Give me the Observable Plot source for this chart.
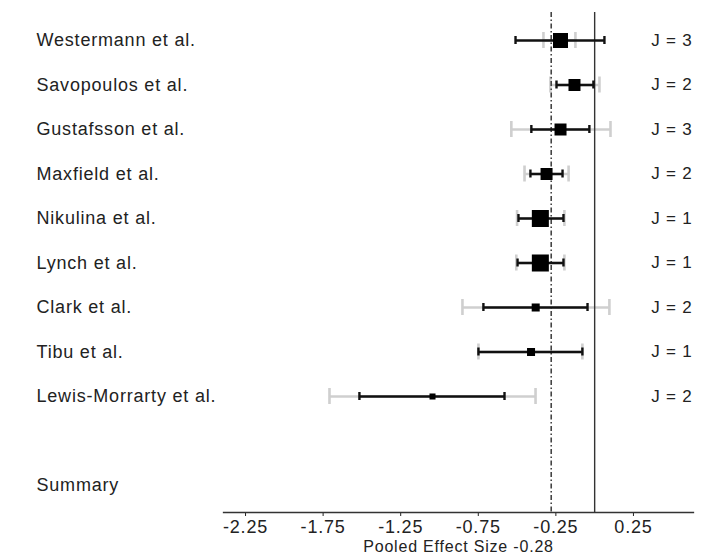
<!DOCTYPE html>
<html>
<head>
<meta charset="utf-8">
<script src="https://cdn.jsdelivr.net/npm/d3@7"></script>
<script src="https://cdn.jsdelivr.net/npm/@observablehq/plot@0.6"></script>
<style>
  html, body { margin: 0; padding: 0; background: #fff; }
  #chart svg { display: block; }
</style>
</head>
<body>
<div id="chart"></div>
<script>
// ---- data ----
const studies = ["Westermann et al.", "Savopoulos et al.", "Gustafsson et al.", "Maxfield et al.",
  "Nikulina et al.", "Lynch et al.", "Clark et al.", "Tibu et al.", "Lewis-Morrarty et al."];
const effect   = [-0.22, -0.13, -0.22, -0.31, -0.35, -0.35, -0.38, -0.41, -1.045];
const ciLow    = [-0.51, -0.246, -0.408, -0.414, -0.491, -0.497, -0.717, -0.749, -1.516];
const ciHigh   = [0.063, -0.008, -0.034, -0.207, -0.201, -0.201, -0.046, -0.079, -0.581];
const outerLow = [-0.33, -0.285, -0.537, -0.452, -0.50, -0.505, -0.852, -0.749, -1.709];
const outerHigh= [-0.124, 0.031, 0.102, -0.168, -0.195, -0.195, 0.095, -0.079, -0.381];
const weight   = [16.1, 10.3, 10.3, 10.3, 20.7, 20.7, 4.6, 4.6, 2.6];
const J        = [3, 2, 3, 2, 1, 1, 2, 1, 2];
const pooled = -0.28;
const summaryLabel = "Summary";
const xTicks = [-2.25, -1.75, -1.25, -0.75, -0.25, 0.25];
const xLabel = "Pooled Effect Size -0.28";

const rows = studies.concat([" ", summaryLabel]);
const table = studies.map((s, i) => ({
  study: s, effect: effect[i], lo: ciLow[i], hi: ciHigh[i],
  olo: outerLow[i], ohi: outerHigh[i], w: weight[i], j: `J = ${J[i]}`
}));

// band layout: first row centre at 40px, rows 44.5px apart
const step = 44.5;
const firstRow = 40;
const capInset = h => (step - h) / 2;

const chart = Plot.plot({
  width: 723,
  height: 559,
  marginLeft: 223,
  marginRight: 30,
  marginTop: 12,
  marginBottom: 47,
  style: {fontFamily: "'Liberation Sans', Arial, Helvetica, sans-serif", fontSize: "18px", color: "#222", background: "#fff", letterSpacing: "0.8px"},
  x: {domain: [-2.392, 0.637], ticks: xTicks, tickFormat: d => d.toFixed(2), tickSize: 4, tickPadding: 4, label: null},
  y: {type: "band", domain: rows, range: [firstRow - step / 2, firstRow + (rows.length - 0.5) * step], padding: 0, round: false, axis: null},
  r: {type: "sqrt", domain: [0, 20.7], range: [0, 9.6]},
  marks: [
    Plot.frame({anchor: "bottom", stroke: "#333", strokeWidth: 1.3}),
    // outer (grey) intervals
    Plot.ruleY(table, {y: "study", x1: "olo", x2: "ohi", stroke: "#cfcfcf", strokeWidth: 2.6}),
    Plot.tickX(table, {y: "study", x: "olo", stroke: "#cfcfcf", strokeWidth: 2.6, inset: capInset(16)}),
    Plot.tickX(table, {y: "study", x: "ohi", stroke: "#cfcfcf", strokeWidth: 2.6, inset: capInset(16)}),
    // reference lines
    Plot.ruleX([pooled], {stroke: "#444", strokeWidth: 1.6, strokeDasharray: "5,2.5,1.5,2.5"}),
    Plot.ruleX([0], {stroke: "#333", strokeWidth: 1.4}),
    // inner (black) intervals
    Plot.ruleY(table, {y: "study", x1: "lo", x2: "hi", stroke: "#111", strokeWidth: 2.4}),
    Plot.tickX(table, {y: "study", x: "lo", stroke: "#111", strokeWidth: 2.4, inset: capInset(8)}),
    Plot.tickX(table, {y: "study", x: "hi", stroke: "#111", strokeWidth: 2.4, inset: capInset(8)}),
    // weight squares
    Plot.dot(table, {y: "study", x: "effect", r: "w", symbol: "square", fill: "#000", stroke: "none"}),
    // study labels
    Plot.text(rows, {y: d => d, text: d => d, frameAnchor: "left", textAnchor: "start", dx: -187, fontSize: 18, fill: "#222"}),
    // J labels
    Plot.text(table, {y: "study", text: "j", frameAnchor: "right", textAnchor: "end", dx: -1, fontSize: 17, fill: "#222"}),
    // x label
    Plot.text([xLabel], {text: d => d, frameAnchor: "bottom", dy: 39, fontSize: 16, fill: "#222"})
  ]
});
document.getElementById("chart").appendChild(chart);
</script>
</body>
</html>
